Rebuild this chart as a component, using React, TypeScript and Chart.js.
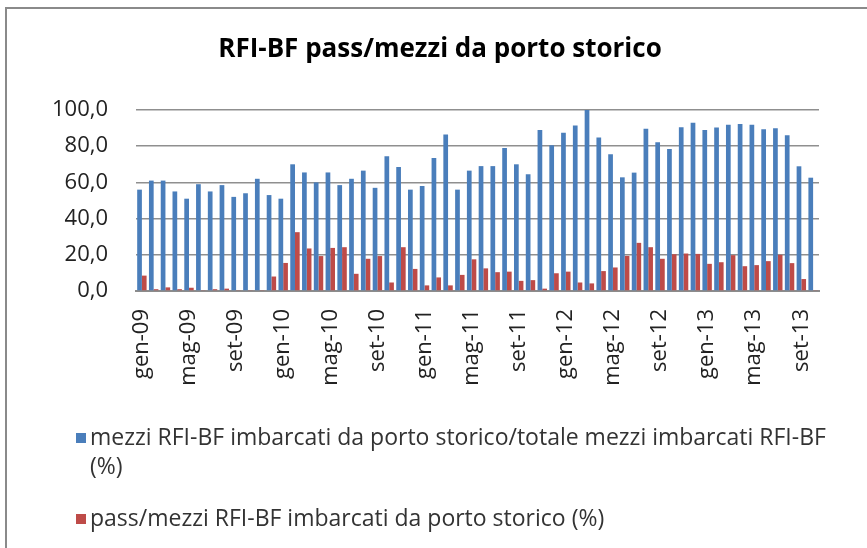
import React, { useEffect, useRef } from "react";
import { Chart, registerables } from "chart.js";

Chart.register(...registerables);

const MONTHS = ["gen", "feb", "mar", "apr", "mag", "giu", "lug", "ago", "set", "ott", "nov", "dic"];
const YEARS = ["09", "10", "11", "12", "13"];
const categories: string[] = [];
for (const y of YEARS) for (const m of MONTHS) categories.push(`${m}-${y}`);
categories.splice(58); // gen-09 .. ott-13

const seriesMezzi = [
  56, 61, 61, 55, 51, 59, 55, 58.5, 52, 54, 62, 53,
  51, 70, 65.5, 60, 65.5, 58.5, 62, 66.5, 57, 74.5, 68.5, 56,
  58, 73.5, 86.5, 56, 66.5, 69, 69, 79, 70, 64.5, 89, 80.5,
  87.5, 91.5, 100, 84.8, 75.6, 62.8, 65.4, 89.6, 82.2, 78.4, 90.5, 93,
  89, 90.3, 91.8, 92.3, 91.8, 89.4, 89.9, 86.1, 68.9, 62.6,
];
const seriesPass = [
  8.5, 1, 2, 1, 1.8, 0.5, 1, 1.3, 0.5, 0.5, 0.3, 8,
  15.5, 32.5, 23.5, 19.3, 23.8, 24.2, 9.5, 17.8, 19.3, 4.7, 24.2, 12.2,
  3.1, 7.5, 3.1, 8.9, 17.5, 12.5, 10.4, 10.7, 5.6, 6, 1.3, 9.8,
  10.7, 4.7, 4.2, 11, 13, 19.4, 26.6, 24.2, 17.8, 20.3, 20.7, 20.5,
  15, 15.9, 19.8, 13.7, 14.3, 16.5, 20, 15.4, 6.6, 0.5,
];
const yTicks = [0, 20, 40, 60, 80, 100];

const TITLE = "RFI-BF pass/mezzi da porto storico";
const LEGEND1a = "mezzi RFI-BF imbarcati da porto storico/totale mezzi imbarcati RFI-BF";
const LEGEND1b = "(%)";
const LEGEND2 = "pass/mezzi RFI-BF imbarcati da porto storico (%)";

const BLUE = "#4a7ebb";
const RED = "#be4b48";
const FONT = "'Open Sans', sans-serif";

export default function App() {
  const ref = useRef<HTMLCanvasElement | null>(null);

  useEffect(() => {
    if (!ref.current) return;
    const chart = new Chart(ref.current, {
      type: "bar",
      data: {
        labels: categories,
        datasets: [
          { label: LEGEND1a + " " + LEGEND1b, data: seriesMezzi, backgroundColor: BLUE, categoryPercentage: 0.8, barPercentage: 1.0 },
          { label: LEGEND2, data: seriesPass, backgroundColor: RED, categoryPercentage: 0.8, barPercentage: 1.0 },
        ],
      },
      options: {
        responsive: false,
        animation: false,
        devicePixelRatio: 1,
        layout: { padding: { left: 30, right: 48, top: 110, bottom: 157 } },
        plugins: {
          legend: { display: false },
          tooltip: { enabled: false },
          title: { display: false },
        },
        scales: {
          x: {
            afterFit: (s: any) => { s.height = 100; },
            grid: { display: false, drawTicks: false },
            border: { display: true, color: "#8c8c8c", width: 2 },
            ticks: {
              autoSkip: false,
              minRotation: 90,
              maxRotation: 90,
              padding: 18,
              color: "#222",
              font: { family: FONT, size: 22 },
              callback: (_v: any, i: number) => (i % 4 === 0 ? categories[i] : ""),
            },
          },
          y: {
            min: 0,
            max: 100,
            afterFit: (s: any) => { s.width = 106; },
            afterBuildTicks: (s: any) => { s.ticks = yTicks.map((v) => ({ value: v })); },
            grid: { color: "#8f8f8f", lineWidth: 1.5, drawTicks: false },
            border: { display: false },
            ticks: {
              padding: 28,
              color: "#222",
              font: { family: FONT, size: 22 },
              callback: (v: any) => Number(v).toFixed(1).replace(".", ","),
            },
          },
        },
      },
    });
    return () => chart.destroy();
  }, []);

  const legendText: React.CSSProperties = {
    fontFamily: FONT,
    fontSize: 23,
    color: "#333",
    lineHeight: "29px",
    whiteSpace: "nowrap",
  };
  const marker = (c: string): React.CSSProperties => ({
    position: "absolute",
    left: -14,
    top: 11,
    width: 10,
    height: 10,
    background: c,
  });

  return (
    <div style={{ position: "fixed", left: 0, top: 0, width: 867, height: 548, overflow: "hidden", background: "#fff" }}>
      <div style={{ position: "absolute", left: 5, top: 7, width: 900, height: 600, borderLeft: "2px solid #8a8a8a", borderTop: "2px solid #8a8a8a" }} />
      <canvas ref={ref} width={867} height={548} style={{ position: "absolute", left: 0, top: 0 }} />
      <div style={{ position: "absolute", left: 0, top: 32, width: 880, textAlign: "center", fontFamily: FONT, fontSize: 26, fontWeight: 700, lineHeight: "30px", color: "#000", whiteSpace: "nowrap" }}>
        {TITLE}
      </div>
      <div style={{ position: "absolute", left: 90, top: 422, ...legendText }}>
        <span style={marker(BLUE)} />
        {LEGEND1a}
        <br />
        {LEGEND1b}
      </div>
      <div style={{ position: "absolute", left: 90, top: 503, ...legendText }}>
        <span style={marker(RED)} />
        {LEGEND2}
      </div>
    </div>
  );
}
